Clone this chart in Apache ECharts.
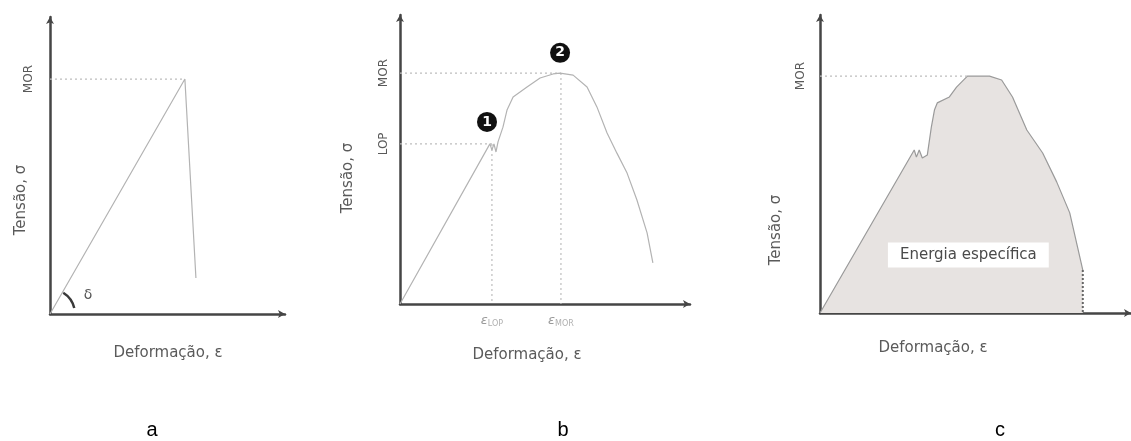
<!DOCTYPE html>
<html>
<head>
<meta charset="utf-8">
<script src="https://cdn.jsdelivr.net/npm/echarts@6/dist/echarts.min.js"></script>
<style>html,body{margin:0;padding:0;background:#fff;}#c{width:1131px;height:441px;}</style>
</head>
<body>
<div id="c"></div>
<script>
// ---- Panel a (linear-elastic, brittle) ----
const aCurve = [[0, 0], [57.4, 79.1], [62.1, 12.1]];
const aMOR = 79.1;
const aMORStrain = 57.4;
const aYTickValues = [79.1];
const aYTickLabels = ['MOR'];

// ---- Panel b (LOP / MOR curve) ----
const bCurve = [[0, 0], [31.0, 55.4], [31.7, 53.3], [32.4, 55.4], [33.1, 52.6], [33.8, 56.1],
  [35.5, 61.2], [36.9, 67.1], [39.0, 71.6], [43.8, 75.1], [48.3, 78.2], [52.8, 79.6],
  [55.2, 79.9], [59.7, 79.2], [64.5, 75.1], [67.9, 68.2], [71.4, 59.2], [74.8, 52.2],
  [78.3, 45.3], [81.7, 36.0], [85.2, 24.6], [87.2, 14.2]];
const bLOP = 55.4;
const bMOR = 79.9;
const bLOPStrain = 31.7;
const bMORStrain = 55.5;
const bYTickValues = [55.4, 79.9];
const bYTickLabels = ['LOP', 'MOR'];
const bXTickValues = [31.7, 55.5];
const bXTickLabels = ['{e|ε}{s|LOP}', '{e|ε}{s|MOR}'];
const bMarkers = [[30.0, 63.0, '1'], [55.2, 86.9, '2']];

// ---- Panel c (specific energy) ----
const cCurve = [[0, 0], [30.3, 54.7], [31.0, 52.3], [31.9, 54.7], [32.9, 52.0], [34.5, 53.0],
  [35.8, 62.4], [36.8, 68.1], [37.7, 70.5], [41.6, 72.5], [43.9, 75.8], [47.4, 79.5],
  [54.5, 79.5], [58.4, 78.2], [61.9, 72.5], [66.5, 61.4], [71.6, 53.7], [76.1, 44.0],
  [80.3, 33.6], [84.5, 14.4]];
const cMOR = 79.5;
const cMORStrain = 47.4;
const cEndStrain = 84.5;
const cEndStress = 14.4;
const cYTickValues = [79.5];
const cYTickLabels = ['MOR'];
const cEnergyLabel = [[47.7, 19.5, 'Energia específica']];

// ---- Text ----
const xName = 'Deformação, ε';
const yName = 'Tensão, σ';
const panelLetters = ['a', 'b', 'c'];

const FONT = 'DejaVu Sans';
const AXIS = '#454545';
const CURVE = '#b3b3b3';
const GUIDE = '#bdbdbd';
const TXT = '#5a5a5a';

const grids = [
  {left: 50, top: 17, width: 235, height: 297},
  {left: 400, top: 15, width: 290, height: 289},
  {left: 820, top: 15, width: 311, height: 298}
];

function baseAxis(gi, isY, tickVals, tickLabels, margin, rotate, rich) {
  const ax = {
    type: 'value', gridIndex: gi, min: 0, max: 100,
    splitLine: {show: false},
    axisTick: {show: false},
    axisLine: {show: true, onZero: false, symbol: ['none', 'arrow'], symbolSize: [6, 7],
      lineStyle: {color: AXIS, width: 2.5}},
    axisLabel: {show: false}
  };
  if (tickVals) {
    ax.axisLabel = {
      show: true, customValues: tickVals, margin: margin, rotate: rotate || 0,
      color: TXT, fontFamily: FONT, fontSize: 12,
      formatter: v => tickLabels[tickVals.indexOf(v)]
    };
    if (rich) ax.axisLabel.rich = rich;
  }
  return ax;
}

const epsRich = {
  e: {fontFamily: FONT, fontSize: 13, color: '#9a9a9a', fontStyle: 'italic'},
  s: {fontFamily: FONT, fontSize: 8, color: '#b0b0b0', verticalAlign: 'bottom', padding: [6, 0, 0, 0]}
};

function lineSeries(gi, data, color, width, type, z) {
  return {
    type: 'line', xAxisIndex: gi, yAxisIndex: gi, data: data, showSymbol: false, symbol: 'none',
    silent: true, z: z || 2,
    lineStyle: {color: color, width: width, type: type || 'solid'}
  };
}

const option = {
  animation: false,
  backgroundColor: '#ffffff',
  grid: grids,
  xAxis: [
    baseAxis(0, false),
    baseAxis(1, false, bXTickValues, bXTickLabels, 10, 0, epsRich),
    baseAxis(2, false)
  ],
  yAxis: [
    baseAxis(0, true, aYTickValues, aYTickLabels, 15, 90),
    baseAxis(1, true, bYTickValues, bYTickLabels, 10, 90),
    baseAxis(2, true, cYTickValues, cYTickLabels, 13, 90)
  ],
  series: [
    // a
    lineSeries(0, [[0, aMOR], [aMORStrain, aMOR]], GUIDE, 1.2, [2, 3]),
    lineSeries(0, aCurve, CURVE, 1.2),
    // b
    lineSeries(1, [[0, bLOP], [bLOPStrain, bLOP]], GUIDE, 1.2, [2, 3]),
    lineSeries(1, [[bLOPStrain, bLOP], [bLOPStrain, 0]], GUIDE, 1.2, [2, 3]),
    lineSeries(1, [[0, bMOR], [bMORStrain, bMOR]], GUIDE, 1.2, [2, 3]),
    lineSeries(1, [[bMORStrain, bMOR], [bMORStrain, 0]], GUIDE, 1.2, [2, 3]),
    lineSeries(1, bCurve, CURVE, 1.2),
    {
      type: 'scatter', xAxisIndex: 1, yAxisIndex: 1, data: bMarkers, symbolSize: 20, z: 5,
      itemStyle: {color: '#111111', opacity: 1},
      label: {show: true, position: 'inside', formatter: p => p.data[2], color: '#ffffff',
        fontWeight: 'bold', fontFamily: FONT, fontSize: 14}
    },
    // c
    Object.assign(lineSeries(2, cCurve, '#9a9a9a', 1.2), {
      areaStyle: {color: '#e7e3e1', opacity: 1}
    }),
    lineSeries(2, [[0, cMOR], [cMORStrain, cMOR]], GUIDE, 1.2, [2, 3]),
    lineSeries(2, [[cEndStrain, cEndStress], [cEndStrain, 0]], '#666', 2, [2, 2], 3),
    {
      type: 'scatter', xAxisIndex: 2, yAxisIndex: 2, data: cEnergyLabel, symbolSize: 0, z: 6,
      itemStyle: {opacity: 1},
      label: {show: true, position: 'inside', formatter: p => p.data[2],
        backgroundColor: '#ffffff', padding: [5, 12, 5, 12], color: '#4a4a4a',
        fontFamily: FONT, fontSize: 15}
    }
  ]
};

const chart = echarts.init(document.getElementById('c'), null, {renderer: 'canvas'});
chart.setOption(option);

const o = chart.convertToPixel({gridIndex: 0}, [0, 0]);
const nameStyle = {fill: TXT, font: '15px "' + FONT + '"', align: 'center', verticalAlign: 'middle'};
chart.setOption({
  graphic: [
    // axis names
    {type: 'text', x: 168, y: 353, style: Object.assign({text: xName}, nameStyle)},
    {type: 'text', x: 527, y: 355, style: Object.assign({text: xName}, nameStyle)},
    {type: 'text', x: 933, y: 348, style: Object.assign({text: xName}, nameStyle)},
    {type: 'text', x: 21, y: 200, rotation: Math.PI / 2, style: Object.assign({text: yName}, nameStyle)},
    {type: 'text', x: 348, y: 178, rotation: Math.PI / 2, style: Object.assign({text: yName}, nameStyle)},
    {type: 'text', x: 776, y: 230, rotation: Math.PI / 2, style: Object.assign({text: yName}, nameStyle)},
    // angle mark in panel a
    {type: 'arc', shape: {cx: o[0], cy: o[1], r: 25, startAngle: -58 * Math.PI / 180, endAngle: -14 * Math.PI / 180, clockwise: true},
      style: {stroke: '#3a3a3a', lineWidth: 2.5, fill: null}},
    {type: 'text', x: o[0] + 38, y: o[1] - 19, style: {text: 'δ', fill: '#555', font: '14px "' + FONT + '"', align: 'center', verticalAlign: 'middle'}},
    // panel letters
    {type: 'text', x: 152, y: 430, style: {text: panelLetters[0], fill: '#000', font: '20px "Liberation Sans"', align: 'center', verticalAlign: 'middle'}},
    {type: 'text', x: 563, y: 430, style: {text: panelLetters[1], fill: '#000', font: '20px "Liberation Sans"', align: 'center', verticalAlign: 'middle'}},
    {type: 'text', x: 1000, y: 430, style: {text: panelLetters[2], fill: '#000', font: '20px "Liberation Sans"', align: 'center', verticalAlign: 'middle'}}
  ]
});
</script>
</body>
</html>
